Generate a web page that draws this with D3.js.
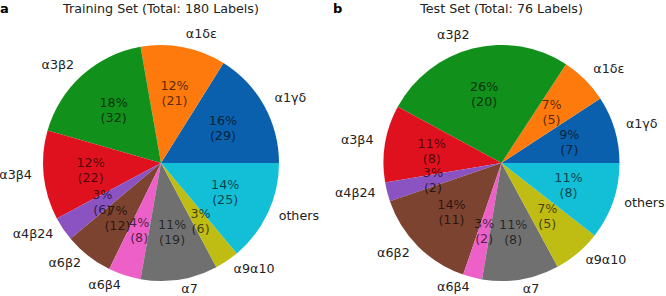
<!DOCTYPE html>
<html>
<head>
<meta charset="utf-8">
<script src="https://cdn.jsdelivr.net/npm/d3@7"></script>
<style>
  body { margin: 0; background: #fff; }
  svg { display: block; font-family: "DejaVu Sans", sans-serif; }
</style>
</head>
<body>
<div id="chart"></div>
<script>
// Kategorije (v smeri urinega kazalca nasprotno, od desne)
const categories = ["α1γδ", "α1δε", "α3β2", "α3β4", "α4β24", "α6β2", "α6β4", "α7", "α9α10", "others"];
const trainCounts = [29, 21, 32, 22, 6, 12, 8, 19, 6, 25];
const testCounts = [7, 5, 20, 8, 2, 11, 2, 8, 5, 8];
const panelTitles = ["Training Set (Total: 180 Labels)", "Test Set (Total: 76 Labels)"];
const panelLetters = ["a", "b"];
const colors = ["#0b60ad", "#ff7a0c", "#12901c", "#e0111f", "#8b52c2", "#7c4331", "#ec60c8", "#707070", "#bfbd13", "#12bfd7"];

const width = 666;
const height = 296;
const radius = 118;
const fontSize = 12.7;

const svg = d3.select("#chart").append("svg")
    .attr("width", width)
    .attr("height", height)
    .attr("viewBox", [0, 0, width, height]);

const color = d3.scaleOrdinal().domain(categories).range(colors);

// matplotlib: začne pri 3h in gre v nasprotni smeri urinega kazalca
const pie = d3.pie()
    .sort(null)
    .value(d => d.value)
    .startAngle(Math.PI / 2)
    .endAngle(Math.PI / 2 - 2 * Math.PI);

const arc = d3.arc().innerRadius(0).outerRadius(radius);

function drawPanel(counts, title, letter, cx, cy, offsetX) {
    const total = d3.sum(counts);
    const data = categories.map((c, i) => ({ name: c, value: counts[i] }));
    const arcs = pie(data);

    svg.append("text")
        .attr("x", offsetX)
        .attr("y", 13)
        .attr("font-size", 13)
        .attr("font-weight", "bold")
        .text(letter);

    svg.append("text")
        .attr("x", cx)
        .attr("y", 13)
        .attr("text-anchor", "middle")
        .attr("font-size", fontSize)
        .attr("fill", "#222")
        .text(title);

    const g = svg.append("g").attr("transform", `translate(${cx},${cy})`);

    g.selectAll("path")
        .data(arcs)
        .join("path")
        .attr("d", arc)
        .attr("fill", d => color(d.data.name));

    const mid = d => (d.startAngle + d.endAngle) / 2;

    // Oznake kategorij na 1.1 * r
    g.selectAll("text.label")
        .data(arcs)
        .join("text")
        .attr("class", "label")
        .attr("x", d => 1.1 * radius * Math.sin(mid(d)))
        .attr("y", d => -1.1 * radius * Math.cos(mid(d)))
        .attr("dy", "0.17em")
        .attr("text-anchor", d => Math.sin(mid(d)) > 0 ? "start" : "end")
        .attr("font-size", fontSize)
        .attr("fill", "#222")
        .text(d => d.data.name);

    // Odstotki na 0.6 * r
    const pct = g.selectAll("text.pct")
        .data(arcs)
        .join("text")
        .attr("class", "pct")
        .attr("text-anchor", "middle")
        .attr("font-size", fontSize)
        .attr("fill", "#000")
        .attr("fill-opacity", 0.68)
        .attr("transform", d => `translate(${0.6 * radius * Math.sin(mid(d))},${-0.6 * radius * Math.cos(mid(d))})`);

    pct.append("tspan")
        .attr("x", 0)
        .attr("y", -7.5)
        .attr("dy", "0.3em")
        .text(d => `${Math.round(d.data.value / total * 100)}%`);

    pct.append("tspan")
        .attr("x", 0)
        .attr("y", 7.5)
        .attr("dy", "0.3em")
        .text(d => `(${d.data.value})`);
}

drawPanel(trainCounts, panelTitles[0], panelLetters[0], 161, 163, 0);
drawPanel(testCounts, panelTitles[1], panelLetters[1], 501.5, 163, 333);
</script>
</body>
</html>
